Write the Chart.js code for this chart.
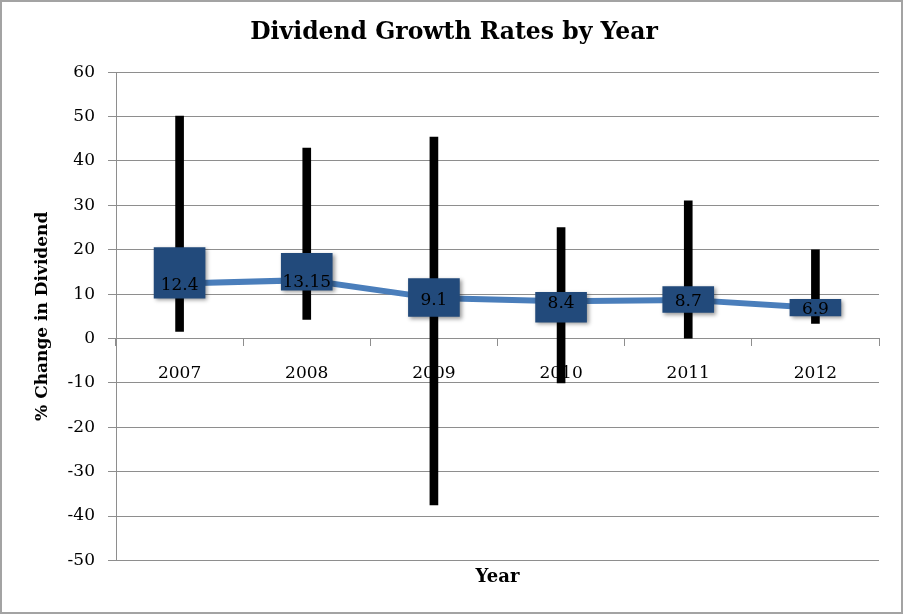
<!DOCTYPE html>
<html>
<head>
<meta charset="utf-8">
<script src="https://cdn.jsdelivr.net/npm/chart.js@4.4.1/dist/chart.umd.min.js"></script>
<style>
  html, body { margin: 0; padding: 0; background: #fff; }
  #wrap {
    width: 903px; height: 614px; box-sizing: border-box;
    border: 2px solid #a3a3a3; position: relative;
  }
</style>
</head>
<body>
<div id="wrap"><canvas id="chart"></canvas></div>
<script>
const years   = ['2007', '2008', '2009', '2010', '2011', '2012'];
const lows    = [1.6, 4.3, -37.5, -10.0, 0.1, 3.4];
const highs   = [50.1, 42.9, 45.4, 25.0, 31.0, 20.0];
const q1      = [9.1, 10.9, 5.0, 3.7, 5.9, 5.1];
const q3      = [20.5, 19.2, 13.5, 10.4, 11.7, 8.85];
const medians = [12.4, 13.15, 9.1, 8.4, 8.7, 6.9];
const yMin = -50, yMax = 60, yStep = 10;

const serif = "'DejaVu Serif', 'Liberation Serif', serif";
const gridColor = '#8e8e8e';

// soft shadow under the quartile boxes (dataset index 2)
const boxShadow = {
  id: 'boxShadow',
  beforeDatasetDraw(chart, args) {
    if (args.index !== 2) return;
    const ctx = chart.ctx;
    ctx.save();
    ctx.shadowColor = 'rgba(0,0,0,0.4)';
    ctx.shadowBlur = 4;
    ctx.shadowOffsetX = 2;
    ctx.shadowOffsetY = 2;
  },
  afterDatasetDraw(chart, args) {
    if (args.index === 2) chart.ctx.restore();
  }
};

// median value labels
const medianLabels = {
  id: 'medianLabels',
  afterDatasetsDraw(chart) {
    const ctx = chart.ctx;
    const meta = chart.getDatasetMeta(0);
    ctx.save();
    ctx.font = '17px ' + serif;
    ctx.fillStyle = '#000';
    ctx.textAlign = 'center';
    ctx.textBaseline = 'middle';
    meta.data.forEach((pt, i) => {
      ctx.fillText(String(medians[i]), pt.x, pt.y + 2);
    });
    ctx.restore();
  }
};

new Chart(document.getElementById('chart'), {
  type: 'bar',
  data: {
    labels: years,
    datasets: [
      {
        type: 'line',
        label: 'Median',
        data: medians,
        borderColor: '#4a7ebb',
        borderWidth: 6,
        pointRadius: 0,
        tension: 0,
        order: 3
      },
      {
        label: 'Range',
        data: years.map((_, i) => [lows[i], highs[i]]),
        backgroundColor: '#000',
        barThickness: 8,
        grouped: false,
        order: 2
      },
      {
        label: 'Quartiles',
        data: years.map((_, i) => [q1[i], q3[i]]),
        backgroundColor: '#224a7b',
        barThickness: 51,
        grouped: false,
        order: 1
      }
    ]
  },
  options: {
    responsive: true,
    maintainAspectRatio: false,
    animation: false,
    layout: { padding: { left: 27, right: 22, top: 0, bottom: 0 } },
    plugins: {
      legend: { display: false },
      tooltip: { enabled: false },
      title: {
        display: true,
        text: 'Dividend Growth Rates by Year',
        color: '#000',
        font: { family: serif, size: 23.5, weight: 'bold' },
        padding: { top: 17, bottom: 25 }
      },
      subtitle: {
        display: true,
        position: 'bottom',
        fullSize: false,
        text: 'Year',
        color: '#000',
        font: { family: serif, size: 18, weight: 'bold' },
        padding: { top: 6, bottom: 24 }
      }
    },
    scales: {
      x: {
        position: { y: 0 },
        offset: true,
        grid: { display: true, drawOnChartArea: false, drawTicks: true, tickLength: 7, color: gridColor, offset: true },
        border: { color: gridColor },
        ticks: { color: '#000', font: { family: serif, size: 17 }, padding: 18, maxRotation: 0 }
      },
      y: {
        min: yMin,
        max: yMax,
        afterFit: s => { s.width = 87; },
        ticks: { stepSize: yStep, color: '#000', font: { family: serif, size: 17 }, padding: 13 },
        grid: { color: gridColor, tickLength: 8 },
        border: { color: gridColor },
        title: {
          display: true,
          text: '% Change in Dividend',
          color: '#000',
          font: { family: serif, size: 17, weight: 'bold' },
          padding: { top: 3, bottom: 0 }
        }
      }
    }
  },
  plugins: [boxShadow, medianLabels]
});
</script>
</body>
</html>
